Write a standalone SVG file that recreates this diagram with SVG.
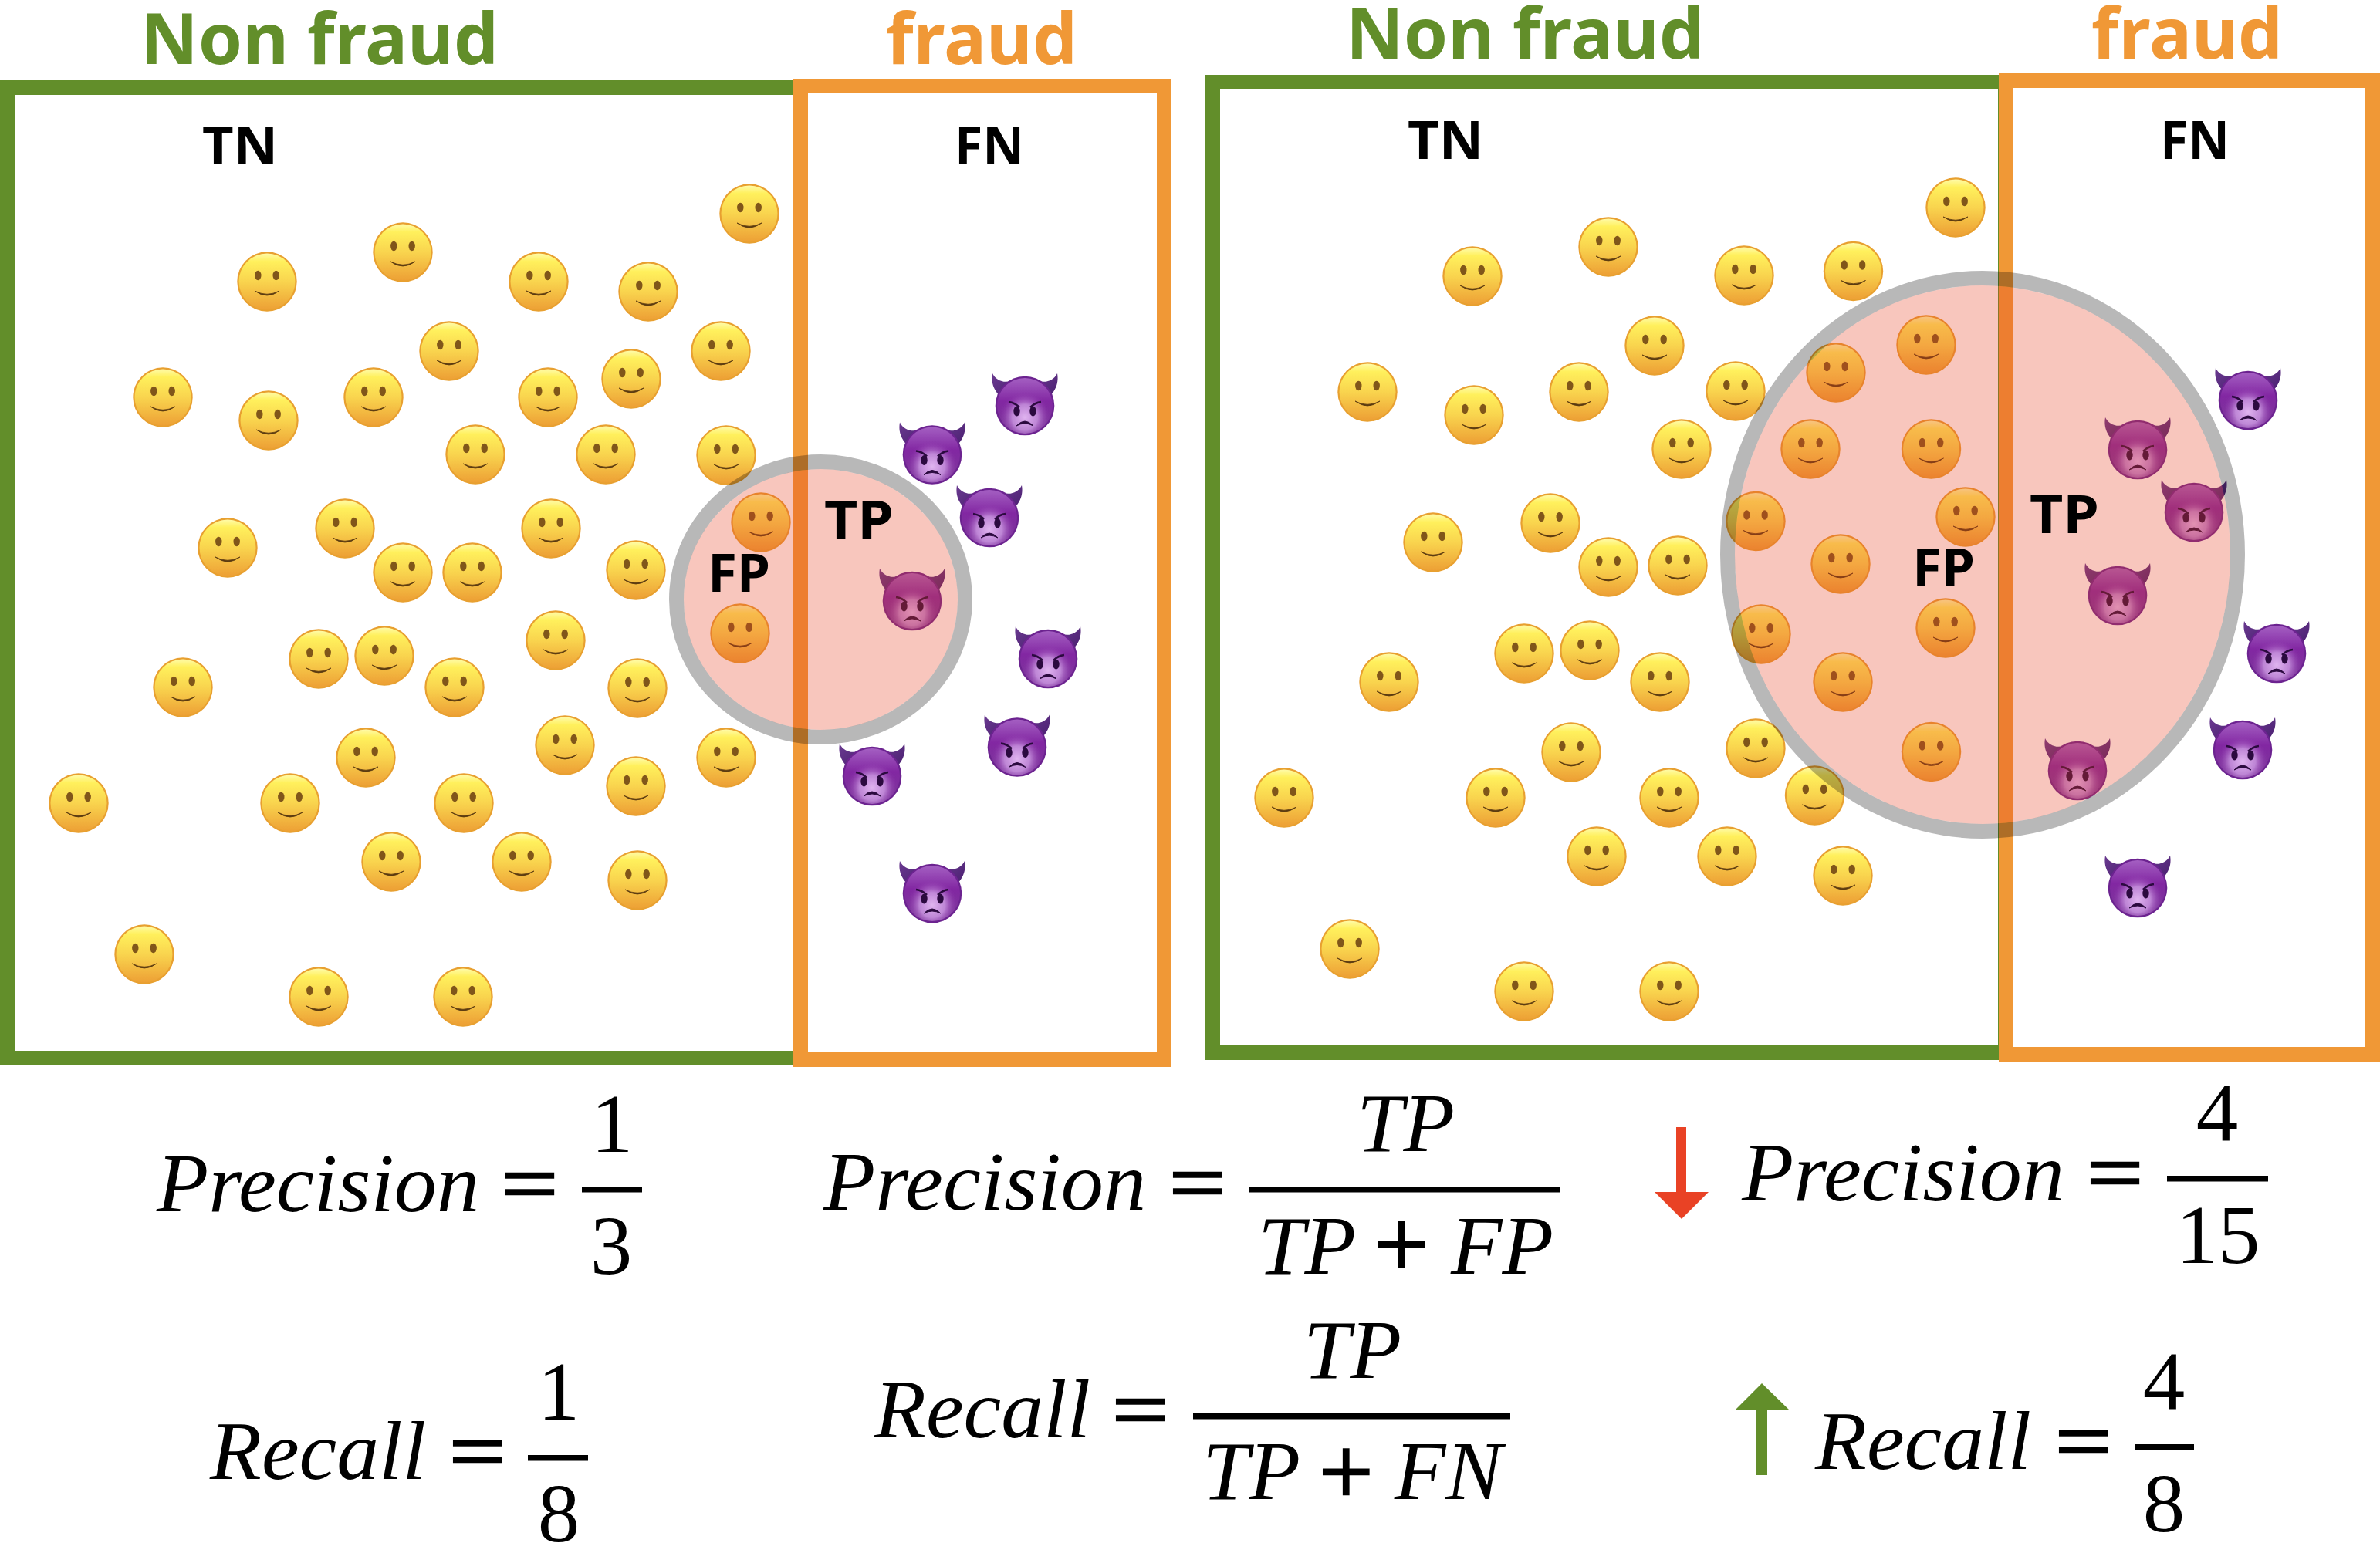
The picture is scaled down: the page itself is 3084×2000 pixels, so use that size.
<svg xmlns="http://www.w3.org/2000/svg" xmlns:xlink="http://www.w3.org/1999/xlink" width="3084" height="2000" viewBox="0 0 3084 2000">
<style>
.frame{fill:none;stroke-width:19}
.g{stroke:#628e2a}.o{stroke:#f09836}
.tg{fill:#628e2a}.to{fill:#f09836}
.h{font-family:"Noto Sans","Open Sans",sans-serif;font-weight:700;font-size:91px}
.l{font-family:"Noto Sans","Open Sans",sans-serif;font-weight:700;font-size:69px;fill:#000}
.m{font-family:"Liberation Serif",serif;font-size:109px;fill:#000}
.i{font-style:italic}
.n{text-anchor:middle}
.eq{stroke:#000;stroke-width:2.5}
.plus{font-size:125px}
.bar{fill:#000}
.rf{fill:#e94225;fill-opacity:.3}
.rs{fill:none;stroke:#000;stroke-opacity:.28;stroke-width:19}
</style>
<defs>
<linearGradient id="sm" x1="0" y1="0" x2="0" y2="1"><stop offset="0" stop-color="#fffba8"/><stop offset=".14" stop-color="#fff05c"/><stop offset=".5" stop-color="#f9d44e"/><stop offset="1" stop-color="#eda035"/></linearGradient>
<linearGradient id="hn" x1="0" y1="0" x2="1" y2="1"><stop offset="0" stop-color="#6a3a90"/><stop offset="1" stop-color="#4a1f70"/></linearGradient>
<linearGradient id="dv" x1="0" y1="0" x2="0" y2="1"><stop offset="0" stop-color="#a45fc2"/><stop offset=".42" stop-color="#8227a2"/><stop offset="1" stop-color="#7a3a98"/></linearGradient>
<radialGradient id="dl" gradientUnits="userSpaceOnUse" cx="0" cy="15" r="33"><stop offset="0" stop-color="#e0b4f0"/><stop offset=".5" stop-color="#c58fdc" stop-opacity=".9"/><stop offset="1" stop-color="#8a2fa8" stop-opacity="0"/></radialGradient>
<g id="smile">
<circle r="38.7" fill="#e8a030"/>
<circle r="36.5" fill="url(#sm)"/>
<ellipse cx="-11.7" cy="-8" rx="4.2" ry="6.2" fill="#80561a"/>
<ellipse cx="11.7" cy="-8" rx="4.2" ry="6.2" fill="#80561a"/>
<path d="M-16,12Q0,24 16,12Q0,20.5 -16,12Z" fill="#5a3a10" stroke="#5a3a10" stroke-width=".8"/>
</g>
<g id="devil">
<path d="M-42,-42C-36,-30 -22,-28 -10,-36L-32,-12C-44,-24 -43,-36 -42,-42Z" fill="url(#hn)"/>
<path d="M42,-42C36,-30 22,-28 10,-36L32,-12C44,-24 43,-36 42,-42Z" fill="url(#hn)"/>
<circle r="38.3" fill="#6c2390"/>
<circle r="36" fill="url(#dv)"/>
<circle r="36" fill="url(#dl)"/>
<path d="M-21,-5Q-13,-4 -7,2" stroke="#2b0a3f" stroke-width="2.6" fill="none"/>
<path d="M21,-5Q13,-4 7,2" stroke="#2b0a3f" stroke-width="2.6" fill="none"/>
<ellipse cx="-10.5" cy="7" rx="4.2" ry="6.4" fill="#2b0a3f"/>
<ellipse cx="10.5" cy="7" rx="4.2" ry="6.4" fill="#2b0a3f"/>
<path d="M-11,26Q0,14 11,26Q0,20 -11,26Z" fill="#2b0a3f" stroke="#2b0a3f" stroke-width="1"/>
</g>
</defs>
<rect width="3084" height="2000" fill="#fff"/>

<g id="left-panel">
<g id="left-non-fraud"><rect class="frame g" x="9.5" y="113.5" width="1027" height="1258"/><text class="h tg" x="182" y="83" textLength="464" lengthAdjust="spacingAndGlyphs">Non fraud</text></g>
<g id="left-fraud"><rect class="frame o" x="1037.5" y="111.5" width="471" height="1262"/><text class="h to" x="1148" y="83" textLength="248" lengthAdjust="spacingAndGlyphs">fraud</text></g>
<g id="left-smileys">
<use href="#smile" x="971" y="277"/><use href="#smile" x="346" y="365"/><use href="#smile" x="522" y="327"/><use href="#smile" x="698" y="365"/><use href="#smile" x="840" y="378"/><use href="#smile" x="582" y="455"/><use href="#smile" x="934" y="455"/><use href="#smile" x="211" y="515"/><use href="#smile" x="348" y="545"/><use href="#smile" x="484" y="515"/><use href="#smile" x="710" y="515"/><use href="#smile" x="818" y="491"/><use href="#smile" x="616" y="589"/><use href="#smile" x="785" y="589"/><use href="#smile" x="941" y="590"/><use href="#smile" x="295" y="710"/><use href="#smile" x="447" y="685"/><use href="#smile" x="522" y="742"/><use href="#smile" x="612" y="742"/><use href="#smile" x="714" y="685"/><use href="#smile" x="824" y="739"/><use href="#smile" x="986" y="677"/><use href="#smile" x="959" y="821"/><use href="#smile" x="413" y="854"/><use href="#smile" x="498" y="850"/><use href="#smile" x="589" y="891"/><use href="#smile" x="720" y="830"/><use href="#smile" x="826" y="892"/><use href="#smile" x="237" y="891"/><use href="#smile" x="474" y="982"/><use href="#smile" x="732" y="966"/><use href="#smile" x="824" y="1019"/><use href="#smile" x="941" y="982"/><use href="#smile" x="102" y="1041"/><use href="#smile" x="376" y="1041"/><use href="#smile" x="601" y="1041"/><use href="#smile" x="507" y="1117"/><use href="#smile" x="676" y="1117"/><use href="#smile" x="826" y="1141"/><use href="#smile" x="187" y="1237"/><use href="#smile" x="413" y="1292"/><use href="#smile" x="600" y="1292"/>
</g>
<g id="left-devils">
<use href="#devil" x="1328" y="526"/><use href="#devil" x="1208" y="589.5"/><use href="#devil" x="1282" y="671"/><use href="#devil" x="1182" y="779"/><use href="#devil" x="1358" y="854"/><use href="#devil" x="1318" y="968.5"/><use href="#devil" x="1130" y="1006"/><use href="#devil" x="1208" y="1158"/>
</g>
<g id="left-threshold"><ellipse class="rf" cx="1063.5" cy="777" rx="177.5" ry="169"/><ellipse class="rs" cx="1063.5" cy="777" rx="187" ry="178.5"/></g>
<text class="l" x="262" y="213" textLength="98" lengthAdjust="spacingAndGlyphs">TN</text>
<text class="l" x="1237" y="213" textLength="90" lengthAdjust="spacingAndGlyphs">FN</text>
<text class="l" x="917" y="767" textLength="81" lengthAdjust="spacingAndGlyphs">FP</text>
<text class="l" x="1068" y="698" textLength="90" lengthAdjust="spacingAndGlyphs">TP</text>
</g>

<g id="right-panel">
<g id="right-non-fraud"><rect class="frame g" x="1571.5" y="106.5" width="1027" height="1258"/><text class="h tg" x="1744" y="76" textLength="464" lengthAdjust="spacingAndGlyphs">Non fraud</text></g>
<g id="right-fraud"><rect class="frame o" x="2599.5" y="104.5" width="475" height="1262"/><text class="h to" x="2710" y="76" textLength="248" lengthAdjust="spacingAndGlyphs">fraud</text></g>
<g id="right-smileys">
<use href="#smile" x="2534" y="269"/><use href="#smile" x="1908" y="358"/><use href="#smile" x="2084" y="320"/><use href="#smile" x="2260" y="357"/><use href="#smile" x="2401.5" y="351.5"/><use href="#smile" x="2144" y="448"/><use href="#smile" x="2496" y="447"/><use href="#smile" x="1772" y="508"/><use href="#smile" x="1910" y="538"/><use href="#smile" x="2046" y="508"/><use href="#smile" x="2249" y="507"/><use href="#smile" x="2379" y="483"/><use href="#smile" x="2179" y="582"/><use href="#smile" x="2346" y="582"/><use href="#smile" x="2502.5" y="582"/><use href="#smile" x="1857" y="703"/><use href="#smile" x="2009" y="678"/><use href="#smile" x="2084" y="735"/><use href="#smile" x="2174" y="733"/><use href="#smile" x="2275" y="675.5"/><use href="#smile" x="2385" y="731"/><use href="#smile" x="2547" y="670"/><use href="#smile" x="2521" y="814"/><use href="#smile" x="1975" y="847"/><use href="#smile" x="2060" y="843"/><use href="#smile" x="2151" y="884"/><use href="#smile" x="2282" y="822"/><use href="#smile" x="2388" y="884"/><use href="#smile" x="1800" y="884"/><use href="#smile" x="2036" y="975"/><use href="#smile" x="2275" y="970"/><use href="#smile" x="2351.5" y="1031"/><use href="#smile" x="2502.5" y="974.5"/><use href="#smile" x="1664" y="1034"/><use href="#smile" x="1938" y="1034"/><use href="#smile" x="2163" y="1034"/><use href="#smile" x="2069" y="1110"/><use href="#smile" x="2238" y="1110"/><use href="#smile" x="2388" y="1135"/><use href="#smile" x="1749" y="1230"/><use href="#smile" x="1975" y="1285"/><use href="#smile" x="2163" y="1285"/>
</g>
<g id="right-devils">
<use href="#devil" x="2913" y="519"/><use href="#devil" x="2770" y="583"/><use href="#devil" x="2843" y="664"/><use href="#devil" x="2744" y="772"/><use href="#devil" x="2950" y="847"/><use href="#devil" x="2906" y="972"/><use href="#devil" x="2692" y="999"/><use href="#devil" x="2770" y="1151"/>
</g>
<g id="right-threshold"><ellipse class="rf" cx="2569" cy="719" rx="321" ry="349"/><ellipse class="rs" cx="2569" cy="719" rx="330.5" ry="358.5"/></g>
<text class="l" x="1824" y="206" textLength="98" lengthAdjust="spacingAndGlyphs">TN</text>
<text class="l" x="2799" y="206" textLength="90" lengthAdjust="spacingAndGlyphs">FN</text>
<text class="l" x="2478" y="760" textLength="81" lengthAdjust="spacingAndGlyphs">FP</text>
<text class="l" x="2630" y="691" textLength="90" lengthAdjust="spacingAndGlyphs">TP</text>
</g>

<g id="formulas">
<g id="f-precision-1"><text class="m i" x="203" y="1570" textLength="418" lengthAdjust="spacingAndGlyphs">Precision</text><text class="m eq" x="650" y="1570" textLength="73" lengthAdjust="spacingAndGlyphs">=</text><rect class="bar" x="754" y="1538" width="78" height="7.5"/><text class="m n" x="793" y="1493">1</text><text class="m n" x="792" y="1651">3</text></g>
<g id="f-recall-1"><text class="m i" x="272" y="1917" textLength="280" lengthAdjust="spacingAndGlyphs">Recall</text><text class="m eq" x="582" y="1917" textLength="73" lengthAdjust="spacingAndGlyphs">=</text><rect class="bar" x="684" y="1886" width="78" height="7.5"/><text class="m n" x="724" y="1840">1</text><text class="m n" x="724" y="1998">8</text></g>
<g id="f-precision-def"><text class="m i" x="1067" y="1568" textLength="418" lengthAdjust="spacingAndGlyphs">Precision</text><text class="m eq" x="1515" y="1569" textLength="73" lengthAdjust="spacingAndGlyphs">=</text><rect class="bar" x="1618" y="1538" width="404" height="7.5"/><text class="m i" x="1758" y="1492">TP</text><text class="m i" x="1630" y="1651">TP</text><text class="m plus eq" x="1781" y="1654">+</text><text class="m i" x="1880" y="1651">FP</text></g>
<g id="f-recall-def"><text class="m i" x="1133" y="1863" textLength="280" lengthAdjust="spacingAndGlyphs">Recall</text><text class="m eq" x="1441" y="1863" textLength="73" lengthAdjust="spacingAndGlyphs">=</text><rect class="bar" x="1546" y="1832" width="411" height="7.5"/><text class="m i" x="1689" y="1786">TP</text><text class="m i" x="1558" y="1943">TP</text><text class="m plus eq" x="1709" y="1949">+</text><text class="m i" x="1807" y="1943">FN</text></g>
<g id="f-precision-2"><text class="m i" x="2257" y="1556" textLength="418" lengthAdjust="spacingAndGlyphs">Precision</text><text class="m eq" x="2704" y="1556" textLength="73" lengthAdjust="spacingAndGlyphs">=</text><rect class="bar" x="2808" y="1524" width="131" height="7.5"/><text class="m n" x="2873" y="1479">4</text><text class="m n" x="2874" y="1637">15</text></g>
<g id="f-recall-2"><text class="m i" x="2352" y="1904" textLength="280" lengthAdjust="spacingAndGlyphs">Recall</text><text class="m eq" x="2663" y="1904" textLength="73" lengthAdjust="spacingAndGlyphs">=</text><rect class="bar" x="2766" y="1872" width="77" height="7.5"/><text class="m n" x="2804" y="1827">4</text><text class="m n" x="2804" y="1985">8</text></g>
</g>

<g id="connectors">
<polygon fill="#e94225" points="2172,1461 2185,1461 2185,1545 2214,1545 2179,1580 2144,1545 2172,1545"/>
<polygon fill="#628e2a" points="2276,1912 2290,1912 2290,1827 2318,1827 2283,1793 2249,1827 2276,1827"/>
</g>
</svg>
